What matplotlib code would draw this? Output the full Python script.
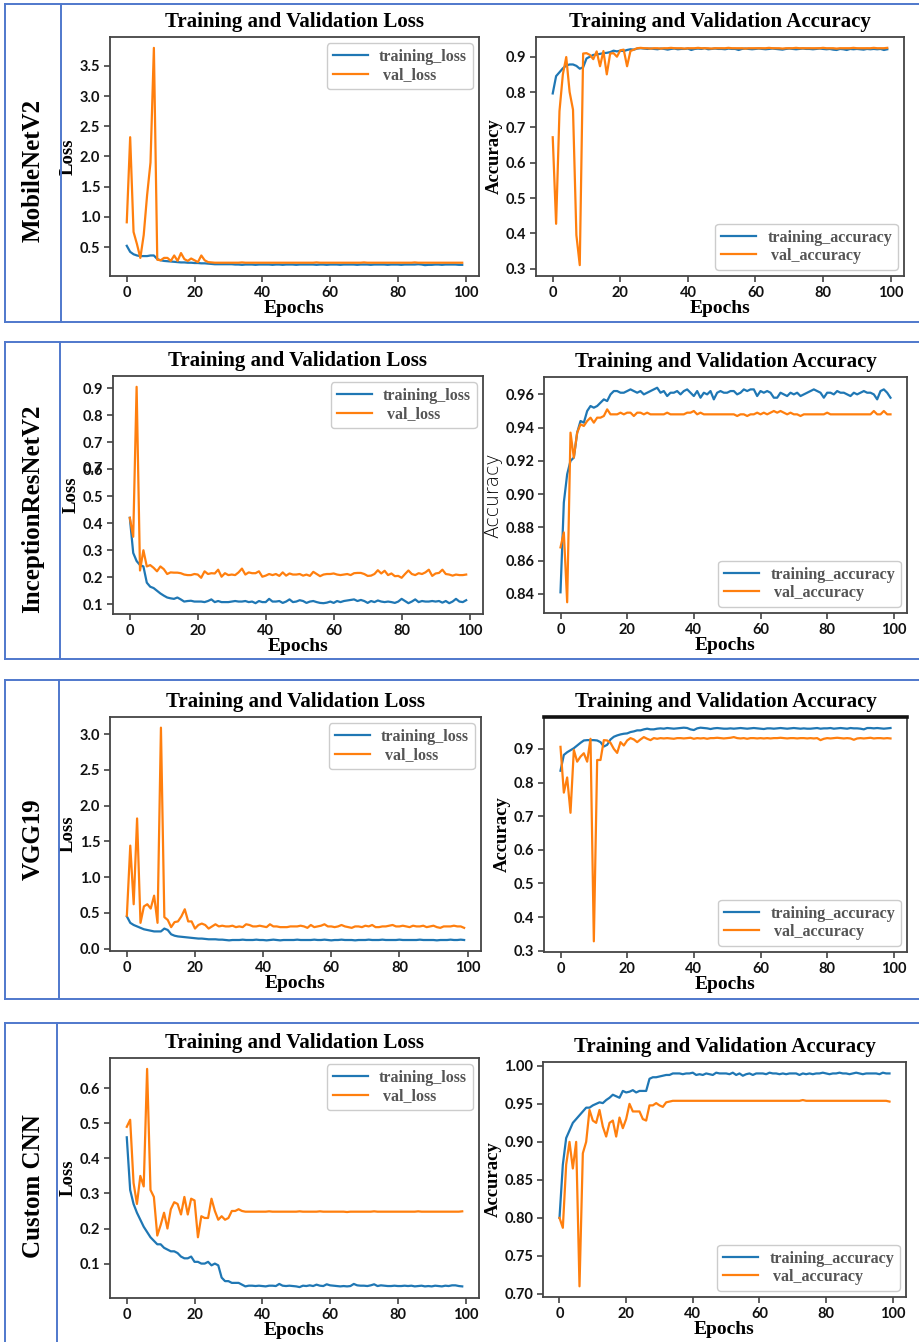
import matplotlib
matplotlib.use("Agg")
import matplotlib.pyplot as plt
from matplotlib.lines import Line2D
from matplotlib.ticker import MultipleLocator, FormatStrFormatter

# ---------------- data ----------------
epochs = list(range(100))
model_names = ["MobileNetV2", "InceptionResNetV2", "VGG19", "Custom CNN"]
x_ticks = [0, 20, 40, 60, 80, 100]

mob_train_loss = [0.52, 0.42, 0.38, 0.36, 0.35, 0.35, 0.35, 0.36, 0.36, 0.30,
                  0.28, 0.27, 0.265, 0.26, 0.255, 0.25, 0.245, 0.245, 0.24, 0.24,
                  0.235, 0.235, 0.23, 0.23, 0.225, 0.22, 0.215, 0.215, 0.215, 0.215,
                  0.215, 0.215, 0.21, 0.21, 0.205, 0.21, 0.21, 0.21, 0.205, 0.21,
                  0.21, 0.21, 0.21, 0.205, 0.21, 0.21, 0.205, 0.21, 0.21, 0.21,
                  0.205, 0.21, 0.21, 0.21, 0.21, 0.21, 0.205, 0.21, 0.21, 0.205,
                  0.21, 0.21, 0.21, 0.205, 0.21, 0.21, 0.21, 0.21, 0.205, 0.21,
                  0.21, 0.21, 0.205, 0.21, 0.21, 0.21, 0.21, 0.205, 0.21, 0.21,
                  0.21, 0.205, 0.21, 0.21, 0.21, 0.21, 0.215, 0.21, 0.20, 0.205,
                  0.205, 0.21, 0.21, 0.205, 0.21, 0.21, 0.21, 0.21, 0.205, 0.205]
mob_val_loss = [0.91, 2.32, 0.75, 0.55, 0.32, 0.70, 1.36, 1.90, 3.80, 0.29,
                0.28, 0.32, 0.32, 0.27, 0.36, 0.27, 0.40, 0.30, 0.27, 0.31,
                0.28, 0.25, 0.36, 0.28, 0.25, 0.245, 0.24, 0.24, 0.24, 0.24,
                0.24, 0.24, 0.24, 0.24, 0.245, 0.24, 0.24, 0.24, 0.24, 0.24,
                0.24, 0.24, 0.24, 0.24, 0.24, 0.24, 0.24, 0.24, 0.24, 0.24,
                0.24, 0.24, 0.24, 0.24, 0.24, 0.24, 0.245, 0.24, 0.24, 0.24,
                0.24, 0.24, 0.24, 0.24, 0.24, 0.24, 0.24, 0.24, 0.24, 0.24,
                0.245, 0.24, 0.24, 0.24, 0.24, 0.24, 0.24, 0.24, 0.24, 0.24,
                0.24, 0.24, 0.24, 0.24, 0.24, 0.245, 0.24, 0.24, 0.24, 0.24,
                0.24, 0.24, 0.24, 0.24, 0.24, 0.24, 0.24, 0.24, 0.24, 0.24]
mob_train_acc = [0.796, 0.845, 0.856, 0.867, 0.875, 0.878, 0.878, 0.874, 0.866, 0.870,
                 0.895, 0.900, 0.905, 0.906, 0.908, 0.910, 0.911, 0.913, 0.917, 0.915,
                 0.917, 0.916, 0.919, 0.921, 0.920, 0.923, 0.924, 0.923, 0.922, 0.923,
                 0.922, 0.921, 0.923, 0.922, 0.920, 0.922, 0.923, 0.921, 0.922, 0.922,
                 0.923, 0.919, 0.922, 0.923, 0.922, 0.924, 0.921, 0.922, 0.923, 0.922,
                 0.922, 0.921, 0.923, 0.922, 0.922, 0.919, 0.922, 0.923, 0.922, 0.921,
                 0.922, 0.923, 0.922, 0.921, 0.922, 0.923, 0.922, 0.921, 0.920, 0.922,
                 0.923, 0.922, 0.921, 0.922, 0.923, 0.922, 0.922, 0.921, 0.922, 0.923,
                 0.922, 0.921, 0.922, 0.920, 0.919, 0.922, 0.921, 0.919, 0.922, 0.921,
                 0.922, 0.921, 0.920, 0.922, 0.921, 0.922, 0.921, 0.922, 0.919, 0.921]
mob_val_acc = [0.672, 0.427, 0.746, 0.850, 0.899, 0.800, 0.750, 0.395, 0.310, 0.909,
               0.910, 0.905, 0.893, 0.915, 0.873, 0.916, 0.850, 0.909, 0.910, 0.900,
               0.918, 0.920, 0.873, 0.916, 0.920, 0.924, 0.925, 0.924, 0.924, 0.923,
               0.924, 0.924, 0.923, 0.924, 0.924, 0.925, 0.924, 0.924, 0.924, 0.923,
               0.924, 0.924, 0.924, 0.925, 0.924, 0.924, 0.924, 0.923, 0.924, 0.924,
               0.924, 0.924, 0.925, 0.924, 0.924, 0.924, 0.924, 0.923, 0.924, 0.924,
               0.924, 0.924, 0.924, 0.924, 0.925, 0.924, 0.924, 0.924, 0.923, 0.924,
               0.924, 0.924, 0.925, 0.924, 0.924, 0.924, 0.924, 0.924, 0.924, 0.924,
               0.925, 0.924, 0.924, 0.924, 0.923, 0.924, 0.924, 0.924, 0.924, 0.925,
               0.924, 0.924, 0.924, 0.924, 0.924, 0.925, 0.924, 0.924, 0.924, 0.925]

inc_train_loss = [0.42, 0.29, 0.26, 0.245, 0.24, 0.18, 0.165, 0.16, 0.15, 0.14,
                  0.132, 0.125, 0.122, 0.12, 0.125, 0.118, 0.11, 0.112, 0.113, 0.11,
                  0.11, 0.11, 0.108, 0.112, 0.118, 0.108, 0.112, 0.108, 0.108, 0.108,
                  0.11, 0.112, 0.11, 0.11, 0.112, 0.108, 0.11, 0.104, 0.112, 0.108,
                  0.108, 0.12, 0.11, 0.11, 0.112, 0.105, 0.11, 0.118, 0.108, 0.11,
                  0.115, 0.112, 0.105, 0.11, 0.112, 0.108, 0.105, 0.104, 0.106, 0.11,
                  0.105, 0.112, 0.108, 0.112, 0.114, 0.116, 0.118, 0.112, 0.116, 0.112,
                  0.105, 0.112, 0.108, 0.114, 0.11, 0.108, 0.11, 0.108, 0.105, 0.11,
                  0.12, 0.112, 0.104, 0.11, 0.118, 0.108, 0.112, 0.11, 0.11, 0.112,
                  0.11, 0.112, 0.106, 0.112, 0.104, 0.11, 0.12, 0.11, 0.108, 0.115]
inc_val_loss = [0.42, 0.35, 0.905, 0.225, 0.30, 0.24, 0.245, 0.235, 0.222, 0.24,
                0.23, 0.212, 0.218, 0.217, 0.217, 0.215, 0.21, 0.208, 0.208, 0.212,
                0.21, 0.198, 0.222, 0.212, 0.215, 0.214, 0.228, 0.202, 0.215, 0.208,
                0.21, 0.208, 0.218, 0.232, 0.21, 0.218, 0.215, 0.215, 0.222, 0.202,
                0.206, 0.212, 0.208, 0.212, 0.205, 0.218, 0.206, 0.214, 0.21, 0.21,
                0.212, 0.206, 0.21, 0.205, 0.22, 0.212, 0.204, 0.21, 0.212, 0.212,
                0.214, 0.21, 0.208, 0.21, 0.212, 0.208, 0.215, 0.216, 0.216, 0.212,
                0.205, 0.206, 0.212, 0.226, 0.214, 0.224, 0.208, 0.214, 0.204, 0.205,
                0.198, 0.212, 0.225, 0.212, 0.208, 0.215, 0.212, 0.218, 0.228, 0.205,
                0.214, 0.216, 0.228, 0.212, 0.21, 0.206, 0.21, 0.208, 0.208, 0.21]
inc_train_acc = [0.841, 0.895, 0.912, 0.920, 0.922, 0.937, 0.944, 0.943, 0.950, 0.953,
                 0.952, 0.953, 0.955, 0.957, 0.956, 0.960, 0.962, 0.962, 0.961, 0.961,
                 0.962, 0.963, 0.962, 0.961, 0.962, 0.960, 0.961, 0.962, 0.963, 0.964,
                 0.961, 0.962, 0.959, 0.961, 0.961, 0.962, 0.960, 0.962, 0.963, 0.961,
                 0.959, 0.962, 0.958, 0.961, 0.960, 0.962, 0.957, 0.961, 0.962, 0.961,
                 0.961, 0.962, 0.962, 0.960, 0.961, 0.963, 0.962, 0.963, 0.963, 0.959,
                 0.962, 0.961, 0.962, 0.961, 0.958, 0.958, 0.961, 0.960, 0.959, 0.961,
                 0.960, 0.961, 0.959, 0.960, 0.961, 0.962, 0.963, 0.962, 0.961, 0.958,
                 0.961, 0.961, 0.960, 0.962, 0.961, 0.961, 0.960, 0.959, 0.961, 0.960,
                 0.961, 0.962, 0.961, 0.961, 0.960, 0.957, 0.962, 0.963, 0.961, 0.958]
inc_val_acc = [0.868, 0.877, 0.835, 0.937, 0.922, 0.937, 0.942, 0.941, 0.944, 0.946,
               0.943, 0.946, 0.946, 0.947, 0.951, 0.948, 0.948, 0.948, 0.949, 0.948,
               0.949, 0.949, 0.947, 0.949, 0.949, 0.948, 0.949, 0.948, 0.948, 0.948,
               0.948, 0.948, 0.949, 0.948, 0.948, 0.948, 0.948, 0.948, 0.949, 0.949,
               0.950, 0.948, 0.949, 0.948, 0.948, 0.948, 0.948, 0.948, 0.948, 0.948,
               0.948, 0.948, 0.948, 0.947, 0.948, 0.948, 0.947, 0.948, 0.948, 0.949,
               0.948, 0.949, 0.948, 0.949, 0.950, 0.949, 0.950, 0.949, 0.948, 0.949,
               0.948, 0.948, 0.947, 0.948, 0.948, 0.948, 0.948, 0.948, 0.948, 0.948,
               0.949, 0.948, 0.948, 0.948, 0.948, 0.948, 0.948, 0.948, 0.948, 0.948,
               0.948, 0.948, 0.948, 0.948, 0.950, 0.948, 0.948, 0.950, 0.948, 0.948]

vgg_train_loss = [0.45, 0.36, 0.33, 0.31, 0.29, 0.27, 0.26, 0.25, 0.24, 0.24,
                  0.24, 0.28, 0.26, 0.20, 0.18, 0.17, 0.165, 0.16, 0.155, 0.15,
                  0.145, 0.14, 0.14, 0.135, 0.13, 0.13, 0.13, 0.125, 0.125, 0.12,
                  0.115, 0.12, 0.12, 0.12, 0.125, 0.12, 0.12, 0.12, 0.125, 0.12,
                  0.12, 0.115, 0.12, 0.125, 0.12, 0.115, 0.12, 0.12, 0.12, 0.12,
                  0.125, 0.12, 0.12, 0.12, 0.12, 0.125, 0.12, 0.12, 0.125, 0.12,
                  0.115, 0.12, 0.12, 0.125, 0.12, 0.12, 0.12, 0.115, 0.12, 0.12,
                  0.12, 0.125, 0.12, 0.12, 0.12, 0.125, 0.12, 0.12, 0.12, 0.12,
                  0.125, 0.12, 0.12, 0.12, 0.12, 0.12, 0.125, 0.12, 0.12, 0.12,
                  0.12, 0.115, 0.12, 0.12, 0.12, 0.125, 0.12, 0.12, 0.125, 0.12]
vgg_val_loss = [0.46, 1.44, 0.62, 1.82, 0.36, 0.59, 0.62, 0.56, 0.74, 0.36,
                3.09, 0.44, 0.40, 0.30, 0.37, 0.38, 0.45, 0.55, 0.38, 0.38,
                0.28, 0.33, 0.35, 0.33, 0.28, 0.31, 0.34, 0.31, 0.32, 0.31,
                0.31, 0.32, 0.30, 0.31, 0.30, 0.34, 0.33, 0.31, 0.31, 0.32,
                0.31, 0.30, 0.34, 0.31, 0.31, 0.30, 0.30, 0.30, 0.31, 0.31,
                0.31, 0.32, 0.31, 0.29, 0.33, 0.30, 0.31, 0.32, 0.34, 0.31,
                0.31, 0.30, 0.31, 0.33, 0.31, 0.30, 0.29, 0.31, 0.31, 0.30,
                0.32, 0.31, 0.33, 0.30, 0.30, 0.31, 0.31, 0.32, 0.33, 0.31,
                0.31, 0.32, 0.31, 0.30, 0.32, 0.31, 0.31, 0.32, 0.30, 0.31,
                0.32, 0.30, 0.29, 0.31, 0.31, 0.31, 0.32, 0.31, 0.31, 0.29]
vgg_train_acc = [0.835, 0.882, 0.890, 0.896, 0.902, 0.910, 0.918, 0.925, 0.926, 0.926,
                 0.926, 0.925, 0.920, 0.907, 0.912, 0.928, 0.936, 0.940, 0.943, 0.945,
                 0.946, 0.950, 0.952, 0.955, 0.955, 0.958, 0.960, 0.958, 0.958, 0.960,
                 0.961, 0.960, 0.962, 0.961, 0.960, 0.961, 0.962, 0.963, 0.962, 0.958,
                 0.956, 0.961, 0.963, 0.962, 0.961, 0.959, 0.961, 0.962, 0.961, 0.960,
                 0.960, 0.961, 0.960, 0.961, 0.962, 0.961, 0.960, 0.961, 0.962, 0.961,
                 0.960, 0.959, 0.961, 0.961, 0.960, 0.961, 0.962, 0.961, 0.960, 0.961,
                 0.962, 0.961, 0.960, 0.961, 0.960, 0.960, 0.961, 0.962, 0.960, 0.961,
                 0.961, 0.962, 0.960, 0.961, 0.962, 0.961, 0.960, 0.962, 0.961, 0.961,
                 0.960, 0.958, 0.962, 0.962, 0.961, 0.962, 0.961, 0.960, 0.961, 0.962]
vgg_val_acc = [0.906, 0.770, 0.815, 0.710, 0.897, 0.862, 0.877, 0.887, 0.862, 0.930,
               0.328, 0.867, 0.867, 0.926, 0.925, 0.918, 0.900, 0.888, 0.920, 0.910,
               0.925, 0.932, 0.928, 0.920, 0.928, 0.935, 0.930, 0.926, 0.932, 0.930,
               0.932, 0.931, 0.932, 0.931, 0.930, 0.932, 0.932, 0.931, 0.932, 0.933,
               0.930, 0.932, 0.931, 0.932, 0.930, 0.932, 0.932, 0.933, 0.932, 0.931,
               0.932, 0.933, 0.935, 0.932, 0.931, 0.932, 0.930, 0.932, 0.932, 0.931,
               0.932, 0.931, 0.932, 0.931, 0.932, 0.932, 0.933, 0.932, 0.931, 0.932,
               0.932, 0.931, 0.932, 0.932, 0.931, 0.932, 0.931, 0.932, 0.926, 0.930,
               0.932, 0.931, 0.932, 0.933, 0.932, 0.931, 0.932, 0.931, 0.927, 0.931,
               0.932, 0.931, 0.932, 0.933, 0.931, 0.932, 0.932, 0.931, 0.932, 0.931]

cnn_train_loss = [0.46, 0.31, 0.27, 0.245, 0.225, 0.205, 0.19, 0.175, 0.165, 0.155,
                  0.155, 0.145, 0.14, 0.135, 0.135, 0.13, 0.12, 0.115, 0.115, 0.12,
                  0.105, 0.105, 0.10, 0.10, 0.105, 0.095, 0.10, 0.095, 0.06, 0.05,
                  0.05, 0.045, 0.045, 0.045, 0.04, 0.035, 0.037, 0.037, 0.036, 0.037,
                  0.036, 0.035, 0.037, 0.037, 0.036, 0.042, 0.037, 0.036, 0.037, 0.036,
                  0.035, 0.033, 0.037, 0.036, 0.038, 0.036, 0.040, 0.037, 0.036, 0.041,
                  0.038, 0.037, 0.036, 0.035, 0.036, 0.035, 0.036, 0.042, 0.038, 0.037,
                  0.037, 0.036, 0.038, 0.041, 0.036, 0.038, 0.037, 0.036, 0.036, 0.037,
                  0.036, 0.036, 0.037, 0.036, 0.037, 0.035, 0.036, 0.037, 0.035, 0.036,
                  0.035, 0.037, 0.036, 0.035, 0.037, 0.036, 0.038, 0.038, 0.036, 0.035]
cnn_val_loss = [0.49, 0.51, 0.33, 0.27, 0.35, 0.32, 0.655, 0.31, 0.29, 0.18,
                0.21, 0.245, 0.20, 0.255, 0.275, 0.27, 0.24, 0.29, 0.24, 0.285,
                0.28, 0.175, 0.235, 0.23, 0.23, 0.285, 0.25, 0.225, 0.235, 0.225,
                0.23, 0.25, 0.25, 0.255, 0.25, 0.248, 0.248, 0.248, 0.248, 0.248,
                0.248, 0.248, 0.249, 0.248, 0.248, 0.248, 0.248, 0.248, 0.248, 0.248,
                0.248, 0.249, 0.248, 0.248, 0.248, 0.248, 0.248, 0.249, 0.248, 0.248,
                0.248, 0.248, 0.248, 0.248, 0.248, 0.247, 0.248, 0.248, 0.248, 0.248,
                0.248, 0.248, 0.248, 0.249, 0.248, 0.248, 0.248, 0.248, 0.248, 0.248,
                0.248, 0.248, 0.248, 0.248, 0.248, 0.248, 0.249, 0.248, 0.248, 0.248,
                0.248, 0.248, 0.248, 0.248, 0.248, 0.248, 0.248, 0.248, 0.248, 0.249]
cnn_train_acc = [0.800, 0.870, 0.905, 0.915, 0.925, 0.930, 0.935, 0.940, 0.945, 0.945,
                 0.948, 0.950, 0.952, 0.951, 0.955, 0.958, 0.962, 0.960, 0.958, 0.967,
                 0.965, 0.966, 0.968, 0.965, 0.967, 0.967, 0.967, 0.983, 0.985, 0.985,
                 0.986, 0.987, 0.988, 0.988, 0.990, 0.990, 0.990, 0.989, 0.990, 0.990,
                 0.991, 0.988, 0.989, 0.988, 0.990, 0.989, 0.988, 0.991, 0.990, 0.990,
                 0.990, 0.989, 0.991, 0.988, 0.990, 0.987, 0.989, 0.990, 0.988, 0.990,
                 0.990, 0.990, 0.989, 0.991, 0.990, 0.990, 0.989, 0.990, 0.989, 0.990,
                 0.990, 0.990, 0.988, 0.990, 0.989, 0.990, 0.989, 0.990, 0.990, 0.991,
                 0.990, 0.989, 0.990, 0.990, 0.991, 0.990, 0.990, 0.989, 0.990, 0.991,
                 0.990, 0.989, 0.990, 0.990, 0.990, 0.990, 0.989, 0.991, 0.990, 0.990]
cnn_val_acc = [0.800, 0.787, 0.870, 0.900, 0.865, 0.900, 0.710, 0.885, 0.900, 0.942,
               0.928, 0.925, 0.942, 0.920, 0.907, 0.925, 0.928, 0.907, 0.932, 0.918,
               0.930, 0.950, 0.940, 0.940, 0.940, 0.930, 0.928, 0.948, 0.948, 0.951,
               0.948, 0.946, 0.952, 0.953, 0.954, 0.954, 0.954, 0.954, 0.954, 0.954,
               0.954, 0.954, 0.954, 0.954, 0.954, 0.954, 0.954, 0.954, 0.954, 0.954,
               0.954, 0.954, 0.954, 0.954, 0.954, 0.954, 0.954, 0.954, 0.954, 0.954,
               0.954, 0.954, 0.954, 0.954, 0.954, 0.954, 0.954, 0.954, 0.954, 0.954,
               0.954, 0.954, 0.954, 0.955, 0.954, 0.954, 0.954, 0.954, 0.954, 0.954,
               0.954, 0.954, 0.954, 0.954, 0.954, 0.954, 0.954, 0.954, 0.954, 0.954,
               0.954, 0.954, 0.954, 0.954, 0.954, 0.954, 0.954, 0.954, 0.954, 0.953]

loss_series = [(mob_train_loss, mob_val_loss), (inc_train_loss, inc_val_loss),
               (vgg_train_loss, vgg_val_loss), (cnn_train_loss, cnn_val_loss)]
acc_series = [(mob_train_acc, mob_val_acc), (inc_train_acc, inc_val_acc),
              (vgg_train_acc, vgg_val_acc), (cnn_train_acc, cnn_val_acc)]
loss_steps = [0.5, 0.1, 0.5, 0.1]
acc_steps = [0.1, 0.02, 0.1, 0.05]

# ---------------- layout (pixels) ----------------
W, H = 920, 1342
fig = plt.figure(figsize=(W / 100, H / 100), dpi=100)
fig.patch.set_facecolor("white")

SERIF = "Liberation Serif"
TICKFONT = "Lato"
BLUE = "#1f77b4"
ORANGE = "#ff7f0e"
BORDER = "#4f78cc"
TICK_FS = 10.5

loss_boxes = [(110, 479, 37, 276), (113, 483, 376, 614), (110, 481, 717, 951), (110, 479, 1058, 1298)]
acc_boxes = [(536, 904, 37, 276), (544, 907, 377, 613), (544, 907, 717, 952), (543, 906, 1062, 1297)]
row_frames = [(4, 322, 61), (342, 659, 60), (680, 999, 59), (1023, 1345, 57)]
label_y = [170, 509, 839, 1186]


def px_axes(l, r, t, b):
    return fig.add_axes([l / W, 1 - b / H, (r - l) / W, (b - t) / H])


def fig_line(x0, y0, x1, y1):
    fig.add_artist(Line2D([x0 / W, x1 / W], [1 - y0 / H, 1 - y1 / H],
                          transform=fig.transFigure, color=BORDER, lw=1.4))


def style(ax):
    for s in ax.spines.values():
        s.set_color("#444444")
        s.set_linewidth(1.3)
    ax.tick_params(direction="out", length=4, width=1.1, color="#333333", pad=3)
    for lab in ax.get_xticklabels() + ax.get_yticklabels():
        lab.set_fontfamily(TICKFONT)
        lab.set_fontweight("bold")
        lab.set_fontsize(TICK_FS)
        lab.set_color("#111111")


def legend(ax, loc):
    lg = ax.legend(loc=loc, prop={"family": SERIF, "weight": "bold", "size": 11.5},
                   edgecolor="#cccccc", framealpha=1, borderaxespad=0.4, handlelength=2.2,
                   labelspacing=0.15, borderpad=0.35, handletextpad=0.7)
    for t in lg.get_texts():
        t.set_color("#555555")


for i in range(4):
    top, bot, div = row_frames[i]
    fig_line(5, top, W, top)
    fig_line(5, bot, W, bot)
    fig_line(5, top, 5, bot)
    fig_line(div, top, div, bot)
    fig.text(33 / W, 1 - label_y[i] / H, model_names[i], rotation=90, ha="center", va="center",
             fontsize=18, fontweight="bold", family=SERIF)

    # loss
    ax = px_axes(*loss_boxes[i])
    tr, va = loss_series[i]
    ax.plot(epochs, tr, color=BLUE, lw=1.6, label="training_loss")
    ax.plot(epochs, va, color=ORANGE, lw=1.6, label=" val_loss")
    ax.set_xticks(x_ticks)
    ax.yaxis.set_major_locator(MultipleLocator(loss_steps[i]))
    ax.yaxis.set_major_formatter(FormatStrFormatter("%.1f"))
    ax.set_title("Training and Validation Loss", fontsize=15, fontweight="bold", family=SERIF, pad=7)
    ax.set_xlabel("Epochs", fontsize=14, fontweight="bold", family=SERIF, labelpad=0)
    ax.set_ylabel("Loss", fontsize=13.5, fontweight="bold", family=SERIF, labelpad=2)
    legend(ax, "upper right")
    style(ax)

    # accuracy
    ax2 = px_axes(*acc_boxes[i])
    tr, va = acc_series[i]
    ax2.plot(epochs, tr, color=BLUE, lw=1.6, label="training_accuracy")
    ax2.plot(epochs, va, color=ORANGE, lw=1.6, label=" val_accuracy")
    ax2.set_xticks(x_ticks)
    ax2.yaxis.set_major_locator(MultipleLocator(acc_steps[i]))
    ax2.yaxis.set_major_formatter(FormatStrFormatter("%.1f" if acc_steps[i] >= 0.1 else "%.2f"))
    ax2.set_title("Training and Validation Accuracy", fontsize=15, fontweight="bold", family=SERIF, pad=7)
    ax2.set_xlabel("Epochs", fontsize=14, fontweight="bold", family=SERIF, labelpad=0)
    if i == 1:
        ax2.set_ylabel("Accuracy", fontsize=13.5, fontweight="light", family="DejaVu Sans", labelpad=2)
    else:
        ax2.set_ylabel("Accuracy", fontsize=13.5, fontweight="bold", family=SERIF, labelpad=2)
    legend(ax2, "lower right")
    style(ax2)
    if i == 2:
        ax2.spines["top"].set_color("#111111")
        ax2.spines["top"].set_linewidth(2.6)
    if i == 1:
        ax.annotate("0.7", xy=(0, 0.6), xycoords=("axes fraction", "data"), xytext=(-7.3, 0),
                    textcoords="offset points", ha="right", va="center", fontsize=TICK_FS,
                    fontweight="bold", family=TICKFONT, color="#111111")

fig.savefig("out.png", dpi=100, facecolor="white")
